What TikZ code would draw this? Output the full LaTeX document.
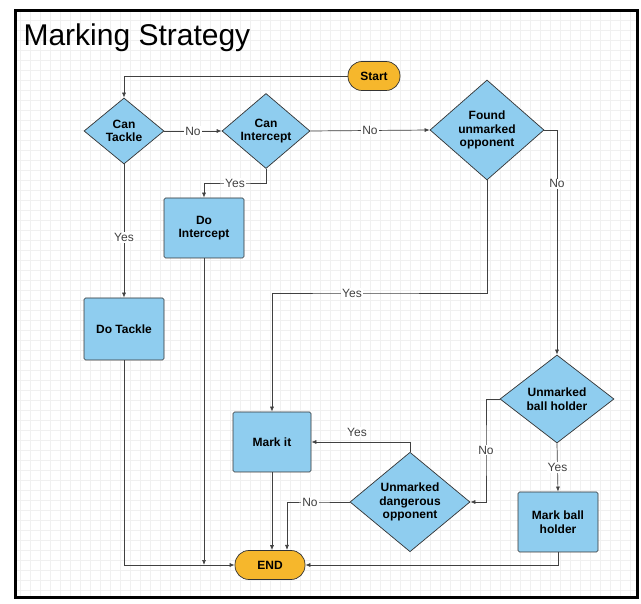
\documentclass[tikz,border=0pt]{standalone}
\usepackage{fontspec}
\setmainfont{Liberation Sans}
\usetikzlibrary{shapes.geometric,arrows.meta}
\definecolor{dblue}{HTML}{8FCDEF}
\definecolor{pill}{HTML}{F6B72C}
\begin{document}
\begin{tikzpicture}[x=1pt,y=-1pt,
  dec/.style={diamond,draw=black!80,fill=dblue,line width=0.7pt,font=\bfseries\fontsize{12}{13.5}\selectfont,align=center,inner sep=0pt},
  box/.style={rectangle,rounded corners=1.5pt,draw=black!80,fill=dblue,line width=0.7pt,font=\bfseries\fontsize{12}{13.5}\selectfont,align=center,minimum width=78pt,minimum height=60pt},
  term/.style={rectangle,rounded corners=14pt,draw=black!80,fill=pill,line width=0.7pt,font=\bfseries\fontsize{12}{13}\selectfont,minimum width=70pt,minimum height=29pt},
  ln/.style={draw=black!75,line width=0.7pt,-{Latex[length=5pt,width=4pt]}},
  lab/.style={fill=white,inner sep=1pt,font=\fontsize{12}{13}\selectfont,text=black!75}]
\useasboundingbox (0,0) rectangle (641,604);
\fill[white] (14,10) rectangle (638,598);
\foreach \i in {20,30,...,630} \draw[black!6,line width=0.3pt] (\i,12) -- (\i,596);
\foreach \j in {20,30,...,590} \draw[black!6,line width=0.3pt] (16,\j) -- (636,\j);
\draw[line width=3pt] (15,11) rectangle (637,597);
\node[anchor=west,font=\fontsize{30}{32}\selectfont] (title) at (20,38) {Marking Strategy};
\node[term,minimum width=52pt] (start) at (374,76) {Start};
\node[dec,minimum width=80pt,minimum height=66pt] (tackle) at (124,131) {Can\\Tackle};
\node[dec,minimum width=88pt,minimum height=66pt] (inter) at (266,131) {Can\\Intercept};
\node[dec,minimum width=114pt,minimum height=100pt] (found) at (487,130) {Found\\unmarked\\opponent};
\node[box,minimum width=80pt] (doint) at (204,228) {Do\\Intercept};
\node[box,minimum width=80pt,minimum height=62pt] (dotack) at (124,329) {Do Tackle};
\node[box] (mark) at (272,442) {Mark it};
\node[dec,minimum width=114pt,minimum height=88pt] (ball) at (557,399) {Unmarked\\ball holder};
\node[box,minimum width=80pt] (markball) at (558,522) {Mark ball\\holder};
\node[dec,minimum width=120pt,minimum height=94pt] (dang) at (410,502) {Unmarked\\dangerous\\opponent};
\node[term] (end) at (270,565) {END};
\coordinate (c1) at (204,565);
\draw[ln] (start.west) -| (tackle.north);
\draw[ln] (tackle.east) -- node[lab]{No} (inter.west);
\draw[ln] (inter.east) -- node[lab]{No} (found.west);
\draw[ln] (found.east) -| node[lab,pos=0.62]{No} (ball.north);
\draw[ln] (inter.south) |- (235,183) node[lab]{Yes} -| (doint.north);
\draw[ln] (tackle.south) -- node[lab,pos=0.55]{Yes} (dotack.north);
\draw[ln] (found.south) |- (352,293) node[lab]{Yes} -| (mark.north);
\draw[ln] (doint.south) -- (c1);
\draw[ln] (dotack.south) |- (end.west);
\draw[ln] (mark.south) -- (end.north -| mark.south);
\draw[ln] (ball.west) -| (486,450) node[lab]{No} |- (dang.east);
\draw[ln] (ball.south) -- node[lab,pos=0.5]{Yes} (markball.north);
\draw[ln] (markball.south) |- (end.east);
\draw[ln] (dang.north) |- (mark.east);
\node[lab] (yes3) at (357,432) {Yes};
\draw[ln] (dang.west) -- (310,502) node[lab]{No} -| (287,550);
\end{tikzpicture}
\end{document}
